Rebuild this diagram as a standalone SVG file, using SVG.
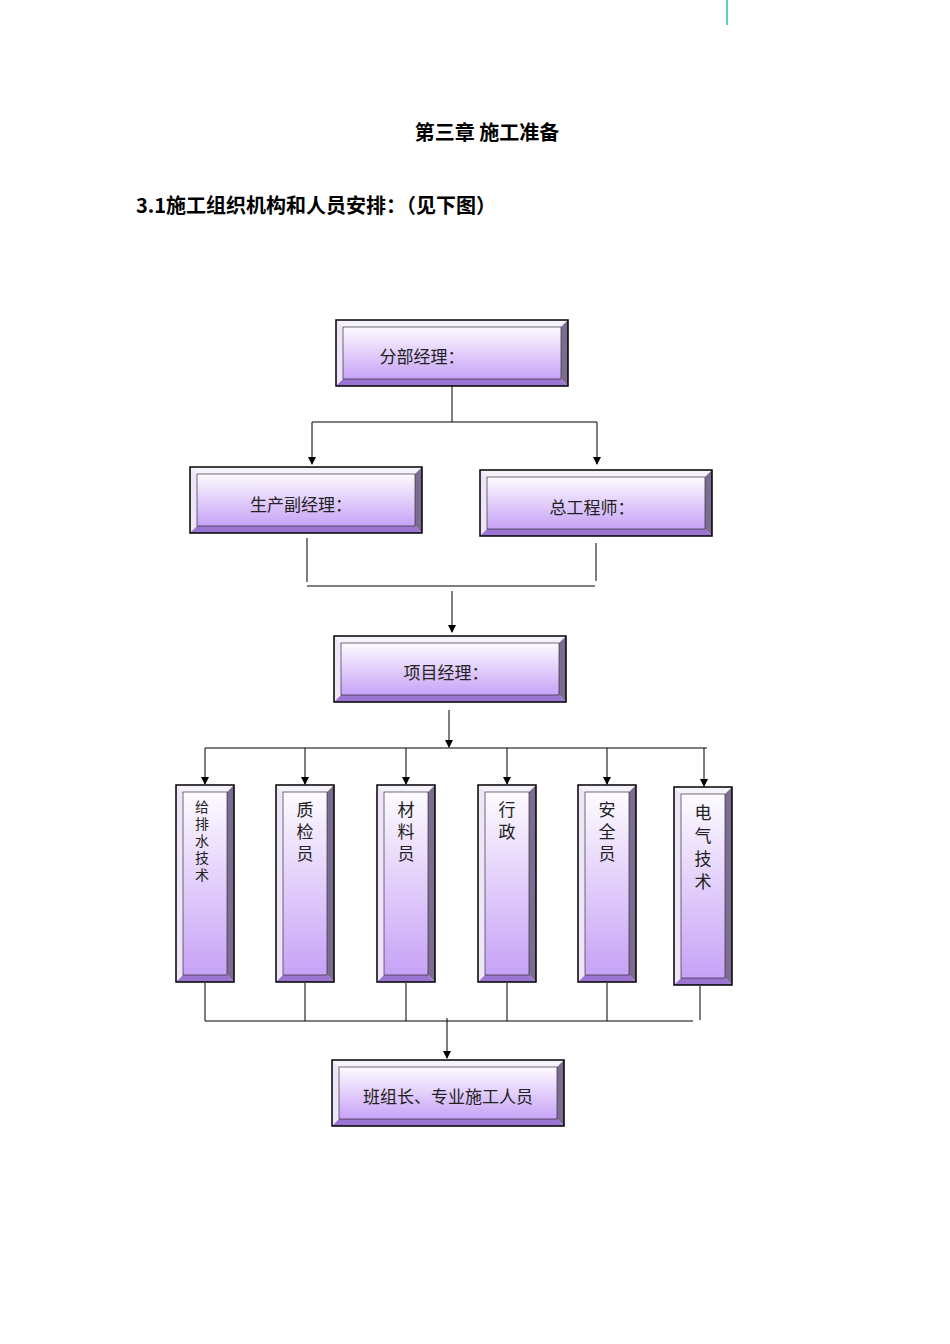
<svg xmlns="http://www.w3.org/2000/svg" width="950" height="1344" viewBox="0 0 950 1344">
<style>
.o{stroke:#000;stroke-width:1.5;fill:none}
.t{fill:#f6f2fc}.l{fill:#eee6f8}.r{fill:#7c6c92}.b{fill:#9c74d2}
.ln{stroke:#000;stroke-width:1;fill:none}
.a{stroke:#000;stroke-width:1;fill:none;marker-end:url(#ar)}
text{font-family:"Liberation Serif","Noto Sans CJK SC",serif;fill:#222}
.h{font-family:"Noto Sans CJK SC",sans-serif;font-weight:bold;font-size:20px;fill:#000}
.lb{font-size:17px;text-anchor:middle}
</style>
<defs>
<linearGradient id="g" x1="0" y1="0" x2="0" y2="1"><stop offset="0" stop-color="#fdfbff"/><stop offset="1" stop-color="#c7a2f6"/></linearGradient>
<marker id="ar" markerWidth="8" markerHeight="8" refX="7" refY="4" orient="auto" markerUnits="userSpaceOnUse"><path d="M0,0 L8,4 L0,8 z" fill="#000"/></marker>
</defs>
<line x1="727" y1="0" x2="727" y2="25" stroke="#2ab8b8" stroke-width="1.5"/>
<text class="h" x="487" y="140" text-anchor="middle">第三章 施工准备</text>
<text class="h" x="136" y="213">3.1施工组织机构和人员安排：（见下图）</text>

<g id="n1"><rect x="343" y="327" width="218" height="52" fill="url(#g)"/><polygon class="t" points="336,320 568,320 561,327 343,327"/><polygon class="l" points="336,320 343,327 343,379 336,386"/><polygon class="r" points="568,320 568,386 561,379 561,327"/><polygon class="b" points="336,386 568,386 561,379 343,379"/><rect class="o" x="336" y="320" width="232" height="66"/><rect x="343" y="327" width="218" height="52" fill="none" stroke="#333" stroke-width="0.7"/><text class="lb" x="422" y="363">分部经理：</text></g>
<g id="n2"><rect x="197" y="474" width="218" height="52" fill="url(#g)"/><polygon class="t" points="190,467 422,467 415,474 197,474"/><polygon class="l" points="190,467 197,474 197,526 190,533"/><polygon class="r" points="422,467 422,533 415,526 415,474"/><polygon class="b" points="190,533 422,533 415,526 197,526"/><rect class="o" x="190" y="467" width="232" height="66"/><rect x="197" y="474" width="218" height="52" fill="none" stroke="#333" stroke-width="0.7"/><text class="lb" x="301" y="511">生产副经理：</text></g>
<g id="n3"><rect x="487" y="477" width="218" height="52" fill="url(#g)"/><polygon class="t" points="480,470 712,470 705,477 487,477"/><polygon class="l" points="480,470 487,477 487,529 480,536"/><polygon class="r" points="712,470 712,536 705,529 705,477"/><polygon class="b" points="480,536 712,536 705,529 487,529"/><rect class="o" x="480" y="470" width="232" height="66"/><rect x="487" y="477" width="218" height="52" fill="none" stroke="#333" stroke-width="0.7"/><text class="lb" x="592" y="514">总工程师：</text></g>
<g id="n4"><rect x="341" y="643" width="218" height="52" fill="url(#g)"/><polygon class="t" points="334,636 566,636 559,643 341,643"/><polygon class="l" points="334,636 341,643 341,695 334,702"/><polygon class="r" points="566,636 566,702 559,695 559,643"/><polygon class="b" points="334,702 566,702 559,695 341,695"/><rect class="o" x="334" y="636" width="232" height="66"/><rect x="341" y="643" width="218" height="52" fill="none" stroke="#333" stroke-width="0.7"/><text class="lb" x="446" y="679">项目经理：</text></g>

<g id="v1"><rect x="183" y="792" width="44" height="183" fill="url(#g)"/><polygon class="t" points="176,785 234,785 227,792 183,792"/><polygon class="l" points="176,785 183,792 183,975 176,982"/><polygon class="r" points="234,785 234,982 227,975 227,792"/><polygon class="b" points="176,982 234,982 227,975 183,975"/><rect class="o" x="176" y="785" width="58" height="197"/><rect x="183" y="792" width="44" height="183" fill="none" stroke="#333" stroke-width="0.7"/><text font-size="14" text-anchor="middle"><tspan x="202" y="812">给</tspan><tspan x="202" y="829">排</tspan><tspan x="202" y="846">水</tspan><tspan x="202" y="863">技</tspan><tspan x="202" y="880">术</tspan></text></g>
<g id="v2"><rect x="283" y="792" width="44" height="183" fill="url(#g)"/><polygon class="t" points="276,785 334,785 327,792 283,792"/><polygon class="l" points="276,785 283,792 283,975 276,982"/><polygon class="r" points="334,785 334,982 327,975 327,792"/><polygon class="b" points="276,982 334,982 327,975 283,975"/><rect class="o" x="276" y="785" width="58" height="197"/><rect x="283" y="792" width="44" height="183" fill="none" stroke="#333" stroke-width="0.7"/><text class="lb"><tspan x="305" y="816">质</tspan><tspan x="305" y="838">检</tspan><tspan x="305" y="860">员</tspan></text></g>
<g id="v3"><rect x="384" y="792" width="44" height="183" fill="url(#g)"/><polygon class="t" points="377,785 435,785 428,792 384,792"/><polygon class="l" points="377,785 384,792 384,975 377,982"/><polygon class="r" points="435,785 435,982 428,975 428,792"/><polygon class="b" points="377,982 435,982 428,975 384,975"/><rect class="o" x="377" y="785" width="58" height="197"/><rect x="384" y="792" width="44" height="183" fill="none" stroke="#333" stroke-width="0.7"/><text class="lb"><tspan x="406" y="816">材</tspan><tspan x="406" y="838">料</tspan><tspan x="406" y="860">员</tspan></text></g>
<g id="v4"><rect x="485" y="792" width="44" height="183" fill="url(#g)"/><polygon class="t" points="478,785 536,785 529,792 485,792"/><polygon class="l" points="478,785 485,792 485,975 478,982"/><polygon class="r" points="536,785 536,982 529,975 529,792"/><polygon class="b" points="478,982 536,982 529,975 485,975"/><rect class="o" x="478" y="785" width="58" height="197"/><rect x="485" y="792" width="44" height="183" fill="none" stroke="#333" stroke-width="0.7"/><text class="lb"><tspan x="507" y="816">行</tspan><tspan x="507" y="838">政</tspan></text></g>
<g id="v5"><rect x="585" y="792" width="44" height="183" fill="url(#g)"/><polygon class="t" points="578,785 636,785 629,792 585,792"/><polygon class="l" points="578,785 585,792 585,975 578,982"/><polygon class="r" points="636,785 636,982 629,975 629,792"/><polygon class="b" points="578,982 636,982 629,975 585,975"/><rect class="o" x="578" y="785" width="58" height="197"/><rect x="585" y="792" width="44" height="183" fill="none" stroke="#333" stroke-width="0.7"/><text class="lb"><tspan x="607" y="816">安</tspan><tspan x="607" y="838">全</tspan><tspan x="607" y="860">员</tspan></text></g>
<g id="v6"><rect x="681" y="794" width="44" height="184" fill="url(#g)"/><polygon class="t" points="674,787 732,787 725,794 681,794"/><polygon class="l" points="674,787 681,794 681,978 674,985"/><polygon class="r" points="732,787 732,985 725,978 725,794"/><polygon class="b" points="674,985 732,985 725,978 681,978"/><rect class="o" x="674" y="787" width="58" height="198"/><rect x="681" y="794" width="44" height="184" fill="none" stroke="#333" stroke-width="0.7"/><text class="lb"><tspan x="703" y="819">电</tspan><tspan x="703" y="842">气</tspan><tspan x="703" y="865">技</tspan><tspan x="703" y="888">术</tspan></text></g>

<g id="n5"><rect x="339" y="1067" width="218" height="52" fill="url(#g)"/><polygon class="t" points="332,1060 564,1060 557,1067 339,1067"/><polygon class="l" points="332,1060 339,1067 339,1119 332,1126"/><polygon class="r" points="564,1060 564,1126 557,1119 557,1067"/><polygon class="b" points="332,1126 564,1126 557,1119 339,1119"/><rect class="o" x="332" y="1060" width="232" height="66"/><rect x="339" y="1067" width="218" height="52" fill="none" stroke="#333" stroke-width="0.7"/><text class="lb" x="448" y="1103">班组长、专业施工人员</text></g>

<g id="connectors">
<path class="ln" d="M452,386 V422 M312,422 H597"/>
<path class="a" d="M312,422 V464"/><path class="a" d="M597,422 V464"/>
<path class="ln" d="M307,538 V582 M596,543 V581 M307,586 H595"/>
<path class="a" d="M452,591 V632"/>
<path class="a" d="M449,710 V747"/>
<path class="ln" d="M205,748 H707"/>
<path class="a" d="M205,748 V784"/><path class="a" d="M305,748 V784"/><path class="a" d="M406,748 V784"/><path class="a" d="M507,748 V784"/><path class="a" d="M607,748 V784"/><path class="a" d="M704,748 V786"/>
<path class="ln" d="M205,983 V1021 M305,983 V1021 M406,983 V1021 M507,983 V1021 M607,983 V1021 M700,986 V1020 M205,1021 H693"/>
<path class="a" d="M447,1018 V1058"/>
</g>
</svg>
